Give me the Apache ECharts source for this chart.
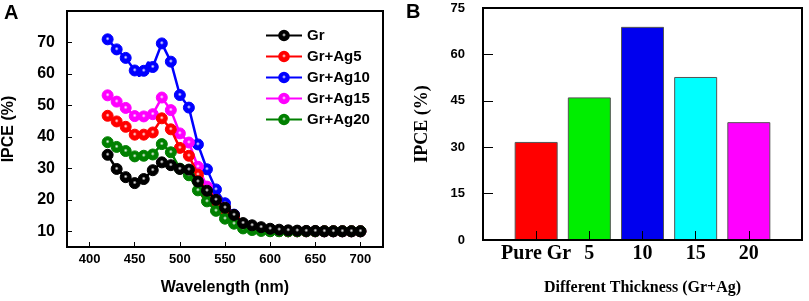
<!DOCTYPE html>
<html>
<head>
<meta charset="utf-8">
<script src="https://cdn.jsdelivr.net/npm/echarts@6/dist/echarts.min.js"></script>
<style>
  html, body { margin: 0; padding: 0; background: #fff; }
  #main { width: 809px; height: 301px; }
</style>
</head>
<body>
<div id="main"></div>
<script>
// panel A data
const wavelength = [420, 430, 440, 450, 460, 470, 480, 490, 500, 510, 520, 530, 540, 550, 560,
  570, 580, 590, 600, 610, 620, 630, 640, 650, 660, 670, 680, 690, 700];
const gr = [34.3, 29.8, 27.2, 25.3, 26.6, 29.4, 31.9, 31.0, 29.8, 29.6, 25.8, 22.9, 20.0, 17.5, 15.2,
  12.6, 11.9, 11.3, 10.8, 10.5, 10.3, 10.2, 10.1, 10.1, 10.0, 10.0, 10.0, 10.0, 10.0];
const grAg5 = [46.7, 44.9, 43.2, 40.7, 40.7, 41.4, 45.9, 42.4, 36.5, 34.0, 28.0, 21.6, 18.5, 16.4, 14.5,
  11.7, 11.0, 10.5, 10.2, 10.1, 10.0, 10.0, 10.0, 10.0, 10.0, 10.0, 10.0, 10.0, 10.0];
const grAg10 = [71.0, 67.8, 65.1, 61.1, 61.0, 62.2, 69.7, 63.9, 53.3, 49.3, 37.6, 29.7, 23.3, 18.9, 15.3,
  12.3, 11.2, 10.6, 10.2, 10.1, 10.0, 10.0, 10.0, 10.0, 10.0, 10.0, 10.0, 10.0, 10.0];
const grAg10Kinks = [[455, 59.3], [465, 63.8]];
const grAg15 = [53.2, 51.2, 49.2, 46.6, 46.5, 47.2, 52.5, 48.5, 41.1, 38.2, 30.5, 24.2, 20.0, 17.4, 15.0,
  12.0, 11.0, 10.5, 10.2, 10.1, 10.0, 10.0, 10.0, 10.0, 10.0, 10.0, 10.0, 10.0, 10.0];
const grAg20 = [38.3, 36.8, 35.5, 33.8, 34.0, 34.4, 37.7, 35.1, 29.9, 27.8, 23.0, 19.5, 16.5, 14.0, 12.4,
  10.9, 10.4, 10.1, 10.0, 10.0, 10.0, 10.0, 10.0, 10.0, 10.0, 10.0, 10.0, 10.0, 10.0];
const xTicksA = [400, 450, 500, 550, 600, 650, 700];
const yTicksA = [10, 20, 30, 40, 50, 60, 70];

// panel B data
const thickness = ['Pure Gr', '5', '10', '15', '20'];
const ipceB = [31.7, 46.1, 68.9, 52.7, 38.1];
const barColors = ['#ff0000', '#00ee00', '#0000ee', '#00ffff', '#ff00ff'];

const sans = 'Liberation Sans, Arial, sans-serif';
const serif = 'Liberation Serif, Times New Roman, serif';

function sphere(c) {
  return {
    type: 'radial', x: 0.5, y: 0.45, r: 0.6,
    colorStops: [{ offset: 0, color: '#ffffff' }, { offset: 0.28, color: c }, { offset: 1, color: c }]
  };
}

function lineSeries(name, vals, color, z, extra) {
  let pts = wavelength.map((w, i) => [w, vals[i]]);
  if (extra) {
    extra.forEach(p => pts.push({ value: p, symbol: 'none' }));
    pts.sort((a, b) => (a.value || a)[0] - (b.value || b)[0]);
  }
  return {
    name: name,
    type: 'line',
    xAxisIndex: 0, yAxisIndex: 0,
    data: pts,
    z: z,
    symbol: 'circle',
    symbolSize: 11,
    lineStyle: { color: color, width: 2.5 },
    itemStyle: { color: sphere(color), borderColor: color, borderWidth: 1 },
    emphasis: { disabled: true }
  };
}

const axisLineStyle = { show: true, lineStyle: { color: '#000', width: 2 } };

const chart = echarts.init(document.getElementById('main'));
chart.setOption({
  animation: false,
  graphic: [
    { type: 'text', left: 4, top: 3, style: { text: 'A', font: 'bold 20px ' + sans, fill: '#000' } },
    { type: 'text', left: 406, top: 2, style: { text: 'B', font: 'bold 20px ' + sans, fill: '#000' } }
  ],
  legend: {
    data: ['Gr', 'Gr+Ag5', 'Gr+Ag10', 'Gr+Ag15', 'Gr+Ag20'],
    orient: 'vertical',
    left: 260, top: 23,
    itemWidth: 36, itemHeight: 12, itemGap: 6,
    textStyle: { fontFamily: sans, fontWeight: 'bold', fontSize: 15, color: '#000' }
  },
  grid: [
    { left: 63, top: 11, width: 320, height: 236, show: true, borderColor: '#000', borderWidth: 2 },
    { left: 483, top: 8, width: 319, height: 236, show: true, borderColor: '#000', borderWidth: 2 }
  ],
  xAxis: [
    {
      gridIndex: 0, type: 'value', min: 375, max: 725,
      name: 'Wavelength (nm)', nameLocation: 'middle', nameGap: 33,
      nameTextStyle: { fontFamily: sans, fontWeight: 'bold', fontSize: 16, color: '#000' },
      axisLine: axisLineStyle,
      axisTick: { show: true, inside: true, length: 5, customValues: xTicksA },
      axisLabel: { customValues: xTicksA, margin: 6, fontFamily: sans, fontWeight: 'bold', fontSize: 13, color: '#000' },
      splitLine: { show: false }
    },
    {
      gridIndex: 1, type: 'value', min: 0, max: 6, interval: 1, z: 3,
      name: 'Different Thickness (Gr+Ag)', nameLocation: 'middle', nameGap: 40,
      nameTextStyle: { fontFamily: serif, fontWeight: 'bold', fontSize: 16, color: '#000' },
      axisLine: axisLineStyle,
      axisTick: { show: true, inside: true, length: 9 },
      axisLabel: {
        margin: 4,
        formatter: v => thickness[v - 1] || '',
        fontFamily: serif, fontWeight: 'bold', fontSize: 20, color: '#000'
      },
      splitLine: { show: false }
    }
  ],
  yAxis: [
    {
      gridIndex: 0, type: 'value', min: 5, max: 80,
      name: 'IPCE (%)', nameLocation: 'middle', nameGap: 50,
      nameTextStyle: { fontFamily: sans, fontWeight: 'bold', fontSize: 16, color: '#000' },
      axisLine: axisLineStyle,
      axisTick: { show: true, inside: true, length: 5, customValues: yTicksA },
      axisLabel: { customValues: yTicksA, margin: 12, fontFamily: sans, fontWeight: 'bold', fontSize: 16, color: '#000' },
      splitLine: { show: false }
    },
    {
      gridIndex: 1, type: 'value', min: 0, max: 75, interval: 15,
      name: 'IPCE (%)', nameLocation: 'middle', nameGap: 52,
      nameTextStyle: { fontFamily: serif, fontWeight: 'bold', fontSize: 18, color: '#000' },
      axisLine: axisLineStyle,
      axisTick: { show: true, inside: true, length: 10 },
      axisLabel: { margin: 18, fontFamily: sans, fontWeight: 'bold', fontSize: 13, color: '#000' },
      splitLine: { show: false }
    }
  ],
  series: [
    lineSeries('Gr+Ag10', grAg10, '#0000ff', 2, grAg10Kinks),
    lineSeries('Gr+Ag15', grAg15, '#ff00ff', 3),
    lineSeries('Gr+Ag5', grAg5, '#ff0000', 4),
    lineSeries('Gr+Ag20', grAg20, '#008000', 5),
    lineSeries('Gr', gr, '#000000', 6),
    {
      type: 'bar',
      xAxisIndex: 1, yAxisIndex: 1,
      barWidth: 43,
      data: ipceB.map((v, i) => ({
        value: [i + 1, v],
        itemStyle: { color: barColors[i], borderColor: '#555', borderWidth: 1 }
      })),
      emphasis: { disabled: true }
    }
  ]
});
</script>
</body>
</html>
